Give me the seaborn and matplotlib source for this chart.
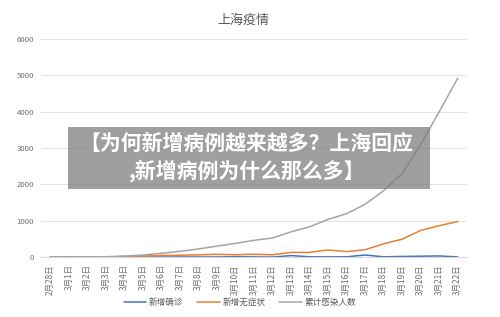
import numpy as np
import pandas as pd
import matplotlib
matplotlib.use("Agg")
import matplotlib.pyplot as plt
import seaborn as sns
from matplotlib.patches import Rectangle

# data
dates = ["2月28日", "3月1日", "3月2日", "3月3日", "3月4日", "3月5日", "3月6日", "3月7日",
         "3月8日", "3月9日", "3月10日", "3月11日", "3月12日", "3月13日", "3月14日", "3月15日",
         "3月16日", "3月17日", "3月18日", "3月19日", "3月20日", "3月21日", "3月22日"]
confirmed = [1, 1, 0, 0, 3, 0, 3, 3, 4, 3, 11, 5, 1, 41, 9, 5, 8, 57, 8, 17, 24, 31, 4]
asymptomatic = [0, 2, 3, 2, 16, 28, 45, 51, 62, 76, 64, 78, 64, 128, 130, 197, 150, 203,
                366, 492, 734, 865, 977]
cumulative = [1, 4, 7, 9, 28, 56, 104, 158, 224, 303, 378, 461, 526, 695, 834, 1036, 1194,
              1454, 1828, 2300, 3100, 4000, 4920]
series_names = ["新增确诊", "新增无症状", "累计感染人数"]
colors = ["#4472C4", "#ED7D31", "#A5A5A5"]
yticks = [0, 1000, 2000, 3000, 4000, 5000, 6000]

sns.set_theme(style="white")
plt.rcParams['font.family'] = ['Noto Sans CJK SC', 'DejaVu Sans']

rows = []
for name, vals in zip(series_names, [confirmed, asymptomatic, cumulative]):
    for i, v in enumerate(vals):
        rows.append({"idx": i, "value": v, "series": name})
df = pd.DataFrame(rows)

fig = plt.figure(figsize=(5, 3.17), dpi=100)
ax = fig.add_axes([0.082, 0.189, 0.852, 0.688])

sns.lineplot(data=df, x="idx", y="value", hue="series", hue_order=series_names,
             palette=colors, linewidth=1.1, ax=ax, legend=False)

ax.set_xlim(-0.5, len(dates) - 0.5)
ax.set_ylim(0, 6000)
ax.set_yticks(yticks)
ax.set_yticklabels([str(t) for t in yticks], fontsize=5.6, color="#6F6F6F")
ax.set_xticks(range(len(dates)))
ax.set_xticklabels(dates, rotation=90, fontsize=6, color="#6F6F6F")
ax.tick_params(axis="both", length=0, pad=5)
ax.set_xlabel("")
ax.set_ylabel("")
ax.yaxis.grid(True, color="#E3E3E3", linewidth=0.8)
for s in ["top", "right", "left"]:
    ax.spines[s].set_visible(False)
ax.spines["bottom"].set_color("#D9D9D9")
ax.spines["bottom"].set_linewidth(0.8)

fig.text(0.486, 0.935, "上海疫情", ha="center", va="center", fontsize=9.4, color="#595959")

handles = [plt.Line2D([], [], color=c, linewidth=1.1) for c in colors]
fig.legend(handles, series_names, loc="center", bbox_to_anchor=(0.48, 0.045), ncol=3,
           frameon=False, fontsize=6.2, handlelength=2.6, handletextpad=0.3,
           columnspacing=1.6, labelcolor="#595959")

# overlay banner
fig.patches.append(Rectangle((0.136, 0.404), 0.724, 0.196, transform=fig.transFigure,
                             facecolor="#7A7A7A", alpha=0.72, edgecolor="none", zorder=5))
fig.text(0.493, 0.548, "【为何新增病例越来越多？上海回应", ha="center", va="center",
         fontsize=15, fontweight="black", color="white", zorder=6)
fig.text(0.494, 0.462, ",新增病例为什么那么多】", ha="center", va="center",
         fontsize=15, fontweight="black", color="white", zorder=6)

fig.savefig("out.png", dpi=100)
